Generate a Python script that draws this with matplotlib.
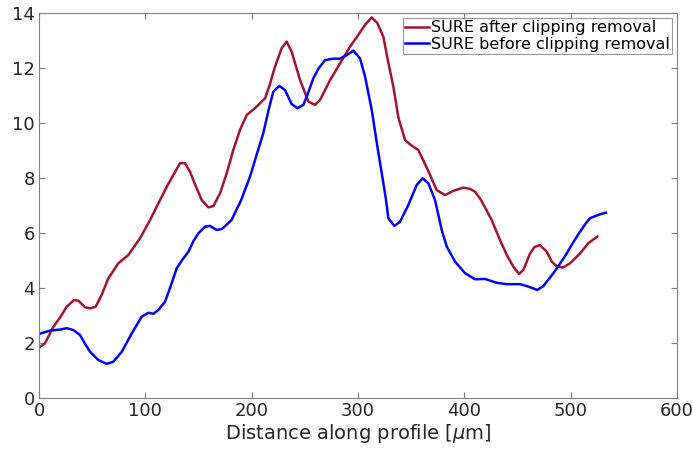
import matplotlib
matplotlib.use("Agg")
import matplotlib.pyplot as plt

# SURE profile after clipping removal
after_x = [0, 5.6, 13.5, 20, 26, 32.9, 37, 43.3, 48, 53.3, 58.9, 65.2, 74.6, 84, 95,
           104.4, 110.7, 120.1, 126, 132.6, 137.3, 142, 147, 153, 159.2, 163.9, 170.2,
           176.5, 182.7, 189, 195.3, 203.1, 212.6, 217, 221.9, 228.2, 232.9, 237.6,
           245.5, 253.3, 259.6, 264.3, 273.7, 283.1, 292.5, 300, 307, 312.9, 318, 323.8,
           328, 333.2, 338, 344.2, 350, 356.7, 362, 368, 374, 381.8, 390, 399, 405, 410,
           415, 420, 425.7, 433, 440, 446, 451.4, 455.5, 461.8, 466, 471, 477.5, 482.2,
           486.9, 492.5, 499.4, 508.8, 516.6, 525]
after_y = [1.84, 2.0, 2.6, 2.95, 3.33, 3.57, 3.55, 3.31, 3.27, 3.33, 3.76, 4.36, 4.91,
           5.21, 5.82, 6.48, 6.97, 7.69, 8.1, 8.55, 8.55, 8.24, 7.75, 7.21, 6.94, 6.99,
           7.45, 8.18, 9.03, 9.76, 10.3, 10.55, 10.91, 11.4, 12.06, 12.73, 12.97, 12.6,
           11.57, 10.79, 10.67, 10.85, 11.57, 12.18, 12.79, 13.2, 13.6, 13.85, 13.65,
           13.15, 12.3, 11.33, 10.2, 9.39, 9.2, 9.03, 8.6, 8.1, 7.57, 7.39, 7.55, 7.66,
           7.62, 7.51, 7.25, 6.9, 6.48, 5.8, 5.2, 4.79, 4.52, 4.67, 5.27, 5.5, 5.57,
           5.33, 4.97, 4.8, 4.75, 4.91, 5.27, 5.64, 5.88]

# SURE profile before clipping removal
before_x = [0, 10.3, 20, 26, 32.3, 38.6, 43, 48, 55.8, 63.6, 69.9, 77.8, 87.2, 96.6,
            102.9, 107.5, 112.2, 118.5, 124, 129.5, 135, 140.5, 145, 149.9, 156.1,
            160.8, 167.1, 171.8, 176, 181, 190, 198.4, 205, 210.9, 216, 220.3, 226,
            231.3, 237.6, 242.9, 248.6, 253, 258, 263, 269, 276.8, 283, 289.4, 295.6,
            301.9, 306.6, 312.9, 318, 322.3, 326, 328.5, 334.2, 339.5, 347.3, 355.2,
            360.8, 366.1, 372.4, 378.7, 383.5, 391.2, 400.6, 410, 419.4, 430.4, 439.8,
            452.4, 460.2, 468.6, 474.3, 483.7, 490, 496.3, 502, 508.8, 514, 518.2, 526, 533]
before_y = [2.34, 2.46, 2.5, 2.55, 2.48, 2.3, 2.0, 1.69, 1.39, 1.25, 1.33, 1.69, 2.36,
            2.97, 3.11, 3.07, 3.21, 3.51, 4.1, 4.73, 5.05, 5.33, 5.7, 6.0, 6.24, 6.27,
            6.12, 6.15, 6.3, 6.48, 7.2, 8.06, 8.9, 9.64, 10.5, 11.15, 11.36, 11.21,
            10.7, 10.55, 10.67, 11.1, 11.64, 12.0, 12.3, 12.35, 12.35, 12.48, 12.64,
            12.36, 11.7, 10.48, 9.2, 8.18, 7.3, 6.55, 6.27, 6.42, 7.03, 7.76, 8.0, 7.82,
            7.21, 6.12, 5.51, 4.97, 4.55, 4.33, 4.34, 4.2, 4.15, 4.15, 4.06, 3.94, 4.08,
            4.55, 4.9, 5.27, 5.65, 6.06, 6.35, 6.55, 6.67, 6.75]

x_ticks = [0, 100, 200, 300, 400, 500, 600]
y_ticks = [0, 2, 4, 6, 8, 10, 12, 14]

text_col = "#262626"
axis_col = "#808080"

fig = plt.figure(figsize=(6.93, 4.51), dpi=100)
ax = fig.add_axes([0.0563, 0.1169, 0.9207, 0.8536])

ax.plot(after_x, after_y, color="#A2142F", lw=1.8, label="SURE after clipping removal")
ax.plot(before_x, before_y, color="#0000FF", lw=1.8, label="SURE before clipping removal")

ax.set_xlim(0, 600)
ax.set_ylim(0, 14)
ax.set_xticks(x_ticks)
ax.set_yticks(y_ticks)
ax.tick_params(direction="in", top=True, right=True, length=4, width=0.8,
               color=axis_col, labelcolor=text_col, labelsize=13, pad=3)
for s in ax.spines.values():
    s.set_color(axis_col)
    s.set_linewidth(0.8)

ax.set_xlabel(r"Distance along profile [$\mu$m]", fontsize=14, color=text_col, labelpad=1)

leg = ax.legend(loc="upper right", fontsize=11.5, frameon=True, fancybox=False,
                edgecolor=axis_col, handlelength=1.5, handletextpad=0.1,
                borderpad=0.15, labelspacing=0.1, borderaxespad=0.3)
leg.get_frame().set_linewidth(0.8)

fig.savefig("out.png", dpi=100)
